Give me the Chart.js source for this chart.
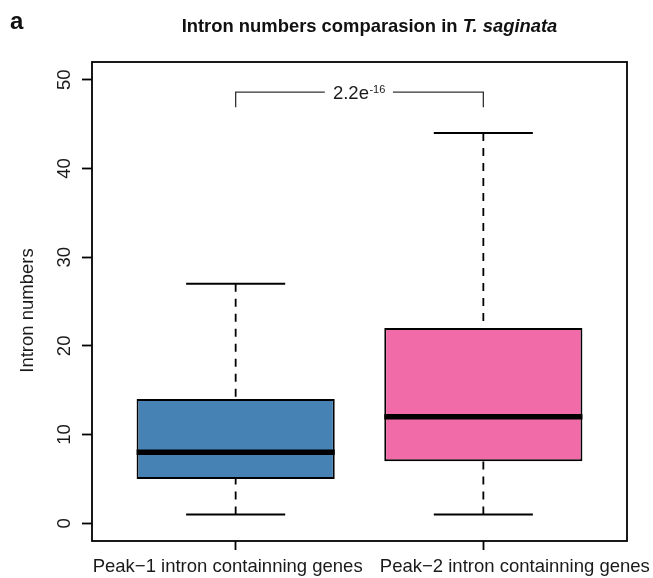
<!DOCTYPE html>
<html><head><meta charset="utf-8">
<script src="https://cdn.jsdelivr.net/npm/chart.js@4.4.1/dist/chart.umd.min.js"></script>
<style>html,body{margin:0;padding:0;background:#fff}#wrap{width:653px;height:578px}</style>
</head><body><div id="wrap"><canvas id="c" width="653" height="578"></canvas></div>
<script>
// ---- data ----
const categories = ['Peak\u22121 intron containning genes', 'Peak\u22122 intron containning genes'];
const positions = [1, 2];
const whiskerLow = [1, 1];
const q1 = [5, 7];
const median = [8, 12];
const q3 = [14, 22];
const whiskerHigh = [27, 44];
const yTicks = [0, 10, 20, 30, 40, 50];
const boxColors = ['#4682B4', '#F06BA8'];
const titleMain = 'Intron numbers comparasion in ';
const titleItalic = 'T. saginata';
const yTitle = 'Intron numbers';
const panelLetter = 'a';
const pValueBase = '2.2e';
const pValueExp = '-16';
const bracketEnds = [1, 2];
const bracketY = [46.9, 48.6];

// ---- style constants ----
const FONT = '"Liberation Sans", Arial, Helvetica, sans-serif';
const BOX_W = 0.8, CAP_W = 0.4;
const GAP = [1.36, 1.635]; // gap in bracket line around p-value label
const TXT = '#1a1a1a';

const datasets = [];
datasets.push({
  type: 'bar',
  data: positions.map((p, i) => ({ x: p, y: [q1[i], q3[i]] })),
  backgroundColor: boxColors,
  borderColor: '#000',
  borderWidth: 1.9,
  borderSkipped: false,
  barPercentage: BOX_W,
  categoryPercentage: 1,
  order: 5
});
function lineDs(pts, opts) {
  return Object.assign({
    type: 'line', data: pts, borderColor: '#000', borderWidth: 1.8,
    pointRadius: 0, fill: false, tension: 0, borderCapStyle: 'butt', order: 1
  }, opts || {});
}
positions.forEach((p, i) => {
  // whiskers (dashed) from whisker end toward box
  datasets.push(lineDs([{ x: p, y: whiskerHigh[i] }, { x: p, y: q3[i] }], { borderDash: [8, 7], order: 6 }));
  datasets.push(lineDs([{ x: p, y: whiskerLow[i] }, { x: p, y: q1[i] }], { borderDash: [8, 7], order: 6 }));
  // caps
  datasets.push(lineDs([{ x: p - CAP_W / 2, y: whiskerHigh[i] }, { x: p + CAP_W / 2, y: whiskerHigh[i] }], { borderWidth: 2 }));
  datasets.push(lineDs([{ x: p - CAP_W / 2, y: whiskerLow[i] }, { x: p + CAP_W / 2, y: whiskerLow[i] }], { borderWidth: 2 }));
  // median
  datasets.push(lineDs([{ x: p - BOX_W / 2, y: median[i] }, { x: p + BOX_W / 2, y: median[i] }], { borderWidth: 5.5, order: 0 }));
});
// significance bracket
datasets.push(lineDs([{ x: bracketEnds[0], y: bracketY[0] }, { x: bracketEnds[0], y: bracketY[1] }, { x: GAP[0], y: bracketY[1] }], { borderColor: '#333', borderWidth: 1.3, borderJoinStyle: 'miter' }));
datasets.push(lineDs([{ x: GAP[1], y: bracketY[1] }, { x: bracketEnds[1], y: bracketY[1] }, { x: bracketEnds[1], y: bracketY[0] }], { borderColor: '#333', borderWidth: 1.3, borderJoinStyle: 'miter' }));

const annot = {
  id: 'annot',
  afterDraw(chart) {
    const ctx = chart.ctx, a = chart.chartArea;
    const xs = chart.scales.x, ys = chart.scales.y;
    ctx.save();
    // frame
    ctx.strokeStyle = '#000';
    ctx.lineWidth = 1.8;
    ctx.strokeRect(a.left, a.top, a.right - a.left, a.bottom - a.top);
    ctx.fillStyle = TXT;
    // y tick labels (rotated)
    ctx.font = '18.5px ' + FONT;
    ctx.textAlign = 'center';
    ctx.textBaseline = 'alphabetic';
    yTicks.forEach(v => {
      ctx.save();
      ctx.translate(a.left - 22, ys.getPixelForValue(v));
      ctx.rotate(-Math.PI / 2);
      ctx.fillText(String(v), 0, 0);
      ctx.restore();
    });
    // y title
    ctx.save();
    ctx.translate(33, (a.top + a.bottom) / 2 + 9);
    ctx.rotate(-Math.PI / 2);
    ctx.fillText(yTitle, 0, 0);
    ctx.restore();
    // x labels
    const labOff = [-8, 31.5];
    positions.forEach((p, i) => {
      ctx.fillText(categories[i], xs.getPixelForValue(p) + labOff[i], a.bottom + 31);
    });
    // p-value
    const cx = xs.getPixelForValue((GAP[0] + GAP[1]) / 2);
    const ly = ys.getPixelForValue(bracketY[1]);
    ctx.font = '18.5px ' + FONT;
    const w1 = ctx.measureText(pValueBase).width;
    ctx.font = '11px ' + FONT;
    const w2 = ctx.measureText(pValueExp).width;
    const sx = cx - (w1 + w2) / 2;
    ctx.textAlign = 'left';
    ctx.font = '18.5px ' + FONT;
    ctx.fillText(pValueBase, sx, ly + 6.5);
    ctx.font = '11px ' + FONT;
    ctx.fillText(pValueExp, sx + w1 + 0.5, ly + 0.5);
    // title
    ctx.fillStyle = '#111';
    const TF = 18.4;
    ctx.font = 'bold ' + TF + 'px ' + FONT;
    const t1 = ctx.measureText(titleMain).width;
    ctx.font = 'italic bold ' + TF + 'px ' + FONT;
    const t2 = ctx.measureText(titleItalic).width;
    const tx = (a.left + a.right) / 2 + 10 - (t1 + t2) / 2;
    ctx.font = 'bold ' + TF + 'px ' + FONT;
    ctx.fillText(titleMain, tx, 32);
    ctx.font = 'italic bold ' + TF + 'px ' + FONT;
    ctx.fillText(titleItalic, tx + t1, 32);
    // panel letter
    ctx.font = 'bold 24px ' + FONT;
    ctx.fillText(panelLetter, 10, 29);
    ctx.restore();
  }
};

new Chart(document.getElementById('c'), {
  type: 'bar',
  data: { datasets },
  options: {
    responsive: false,
    animation: false,
    devicePixelRatio: 1,
    layout: { padding: { top: 62, right: 26, left: 0, bottom: 0 } },
    plugins: { legend: { display: false }, tooltip: { enabled: false }, title: { display: false } },
    scales: {
      x: {
        type: 'linear', min: 0.42, max: 2.58, offset: false,
        afterBuildTicks: s => { s.ticks = positions.map(v => ({ value: v })); },
        afterFit: s => { s.height = 37; },
        ticks: { display: false },
        border: { display: false },
        grid: { display: true, drawOnChartArea: false, drawTicks: true, tickLength: 9, tickColor: '#000', tickWidth: 1.8, offset: false }
      },
      y: {
        type: 'linear', min: -2, max: 52,
        afterBuildTicks: s => { s.ticks = yTicks.map(v => ({ value: v })); },
        afterFit: s => { s.width = 92; },
        ticks: { display: false },
        border: { display: false },
        grid: { display: true, drawOnChartArea: false, drawTicks: true, tickLength: 10, tickColor: '#000', tickWidth: 1.8 }
      }
    }
  },
  plugins: [annot]
});
</script>
</body></html>
